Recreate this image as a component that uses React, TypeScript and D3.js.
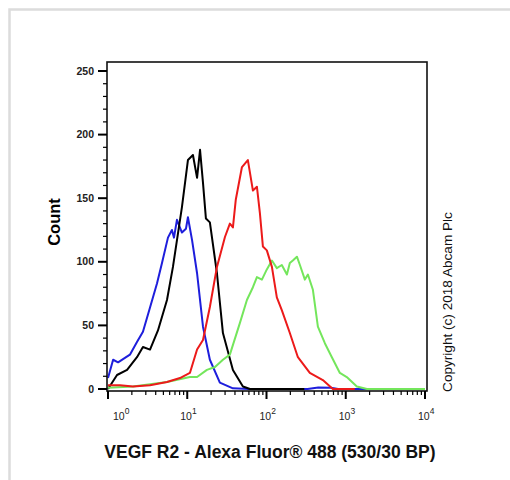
import React, { useEffect, useRef } from "react";
import * as d3 from "d3";

// fluorescence intensity (x) and event count (y)
const blueSeries: [number, number][] = [
  [1, 8.6], [1.16, 23], [1.34, 21], [1.89, 27], [2.32, 37], [2.76, 45],
  [3.39, 64], [4.15, 83], [4.8, 99], [5.71, 119], [6.41, 125], [6.8, 119],
  [7.41, 133], [8.57, 123], [9.63, 126], [10.2, 135], [11.5, 117], [13.3, 91],
  [15.8, 49], [19.3, 23], [25.8, 5], [37.7, 0.5], [60, 0], [330, 0],
  [450, 1.2], [650, 1], [800, 0], [10000, 0],
];

const blackSeries: [number, number][] = [
  [1, 0], [1.3, 11], [1.74, 15], [2.32, 25], [2.76, 33], [3.39, 31],
  [4.27, 46], [5.55, 70], [6.6, 96], [8.57, 143], [10.2, 180], [11.8, 184],
  [13.3, 166], [14.5, 188], [15.8, 162], [17.2, 134], [19.3, 131], [23.7, 91],
  [28.2, 44], [37.7, 15], [50.4, 2], [61.8, 0], [300, 0],
];

const greenSeries: [number, number][] = [
  [1, 1], [2.07, 2], [5.55, 5.5], [10.8, 9.4], [13.3, 9.4], [17.7, 15],
  [22.4, 17.3], [28.2, 23], [34.5, 27], [46.2, 52], [56.6, 70], [67.4, 80],
  [75.7, 88], [87.5, 86], [101, 94], [117, 101], [135, 95], [156, 97.5],
  [181, 90], [197, 99], [215, 101], [242, 104], [264, 97.5], [305, 86],
  [333, 90], [385, 78], [445, 49], [545, 36], [668, 25], [843, 12.6],
  [1030, 9.4], [1380, 2], [1850, 0], [10000, 0],
];

const redSeries: [number, number][] = [
  [1, 3], [1.42, 3], [2.07, 2], [3.39, 3], [5.55, 5.5], [8.09, 8.6],
  [10.8, 12.6], [13.3, 31], [15.8, 38.5], [19.3, 64.5], [23.7, 96],
  [29.9, 119.5], [34.5, 130], [37.7, 127], [41, 149], [49, 174.5],
  [58.2, 180], [67.4, 156], [75.7, 159], [82.6, 138], [90.1, 112],
  [101, 109], [117, 96], [135, 72], [156, 62], [197, 44], [249, 25],
  [352, 12.6], [514, 7], [687, 0], [1300, 0],
];

const yTicks = [0, 50, 100, 150, 200, 250];
const xDecades = [0, 1, 2, 3, 4];

const series = [
  { name: "isotype", color: "#1e1edc", data: blueSeries },
  { name: "unstained", color: "#000000", data: blackSeries },
  { name: "sample b", color: "#74e65c", data: greenSeries },
  { name: "sample a", color: "#ec1a1a", data: redSeries },
];

const font = "Arial, 'Liberation Sans', sans-serif";

export default function App() {
  const svgRef = useRef<SVGSVGElement>(null);

  useEffect(() => {
    const svg = d3.select(svgRef.current);
    svg.selectAll("*").remove();

    const box = { left: 107, right: 427, top: 62, bottom: 391 };

    const x = d3.scaleLog().domain([1, 10000]).range([108, 425]);
    const y = d3.scaleLinear().domain([0, 250]).range([389, 71]);

    // outer grey frame
    svg.append("rect")
      .attr("x", 9.5).attr("y", 9.5)
      .attr("width", 600).attr("height", 600)
      .attr("fill", "none")
      .attr("stroke", "#dcdcdc")
      .attr("stroke-width", 2.5);

    // histograms
    const line = d3.line<[number, number]>()
      .x((d) => x(d[0]))
      .y((d) => y(d[1]));

    svg.append("g")
      .selectAll("path")
      .data(series)
      .enter()
      .append("path")
      .attr("d", (s) => line(s.data))
      .attr("fill", "none")
      .attr("stroke", (s) => s.color)
      .attr("stroke-width", 2)
      .attr("stroke-linejoin", "round");

    // plot box
    svg.append("rect")
      .attr("x", box.left).attr("y", box.top)
      .attr("width", box.right - box.left)
      .attr("height", box.bottom - box.top)
      .attr("fill", "none")
      .attr("stroke", "#111")
      .attr("stroke-width", 1.6);

    // y axis ticks
    const yMinor = d3.range(0, 251, 10);
    svg.append("g")
      .selectAll("line")
      .data(yMinor)
      .enter()
      .append("line")
      .attr("x1", (d) => (d % 50 === 0 ? 98 : 103))
      .attr("x2", box.left)
      .attr("y1", (d) => y(d))
      .attr("y2", (d) => y(d))
      .attr("stroke", "#000")
      .attr("stroke-width", (d) => (d % 50 === 0 ? 2 : 1.2));

    svg.append("g")
      .selectAll("text")
      .data(yTicks)
      .enter()
      .append("text")
      .attr("x", 94)
      .attr("y", (d) => y(d) + 3.5)
      .attr("text-anchor", "end")
      .style("font-family", font)
      .style("font-size", "10.5px")
      .style("font-weight", "bold")
      .attr("fill", "#222")
      .text((d) => d);

    // x axis ticks (log)
    const xMinor: number[] = [];
    xDecades.slice(0, -1).forEach((p) => {
      for (let m = 2; m <= 9; m++) xMinor.push(m * Math.pow(10, p));
    });
    svg.append("g")
      .selectAll("line")
      .data(xMinor)
      .enter()
      .append("line")
      .attr("x1", (d) => x(d))
      .attr("x2", (d) => x(d))
      .attr("y1", box.bottom)
      .attr("y2", box.bottom + 4)
      .attr("stroke", "#000")
      .attr("stroke-width", 1.2);

    svg.append("g")
      .selectAll("line")
      .data(xDecades)
      .enter()
      .append("line")
      .attr("x1", (d) => x(Math.pow(10, d)))
      .attr("x2", (d) => x(Math.pow(10, d)))
      .attr("y1", box.bottom)
      .attr("y2", box.bottom + 8)
      .attr("stroke", "#000")
      .attr("stroke-width", 2);

    const xl = svg.append("g")
      .selectAll("text")
      .data(xDecades)
      .enter()
      .append("text")
      .attr("x", (d) => Math.max(x(Math.pow(10, d)) - 7, 113))
      .attr("y", 420)
      .style("font-family", font)
      .style("font-size", "10.5px")
      .attr("fill", "#222");
    xl.append("tspan").text("10");
    xl.append("tspan")
      .attr("dy", -6)
      .style("font-size", "8.5px")
      .text((d) => d);

    // axis titles
    svg.append("text")
      .attr("transform", "translate(60,222) rotate(-90)")
      .attr("text-anchor", "middle")
      .style("font-family", font)
      .style("font-size", "16.5px")
      .style("font-weight", "bold")
      .text("Count");

    svg.append("text")
      .attr("x", 270)
      .attr("y", 458)
      .attr("text-anchor", "middle")
      .style("font-family", font)
      .style("font-size", "17.5px")
      .style("font-weight", "bold")
      .attr("fill", "#111")
      .text("VEGF R2 - Alexa Fluor® 488 (530/30 BP)");

    svg.append("text")
      .attr("transform", "translate(452,302) rotate(-90)")
      .attr("text-anchor", "middle")
      .style("font-family", font)
      .style("font-size", "13.6px")
      .attr("fill", "#111")
      .text("Copyright (c) 2018 Abcam Plc");
  }, []);

  return (
    <svg
      ref={svgRef}
      width={510}
      height={480}
      style={{ position: "absolute", left: 0, top: 0, background: "#fff" }}
    />
  );
}
